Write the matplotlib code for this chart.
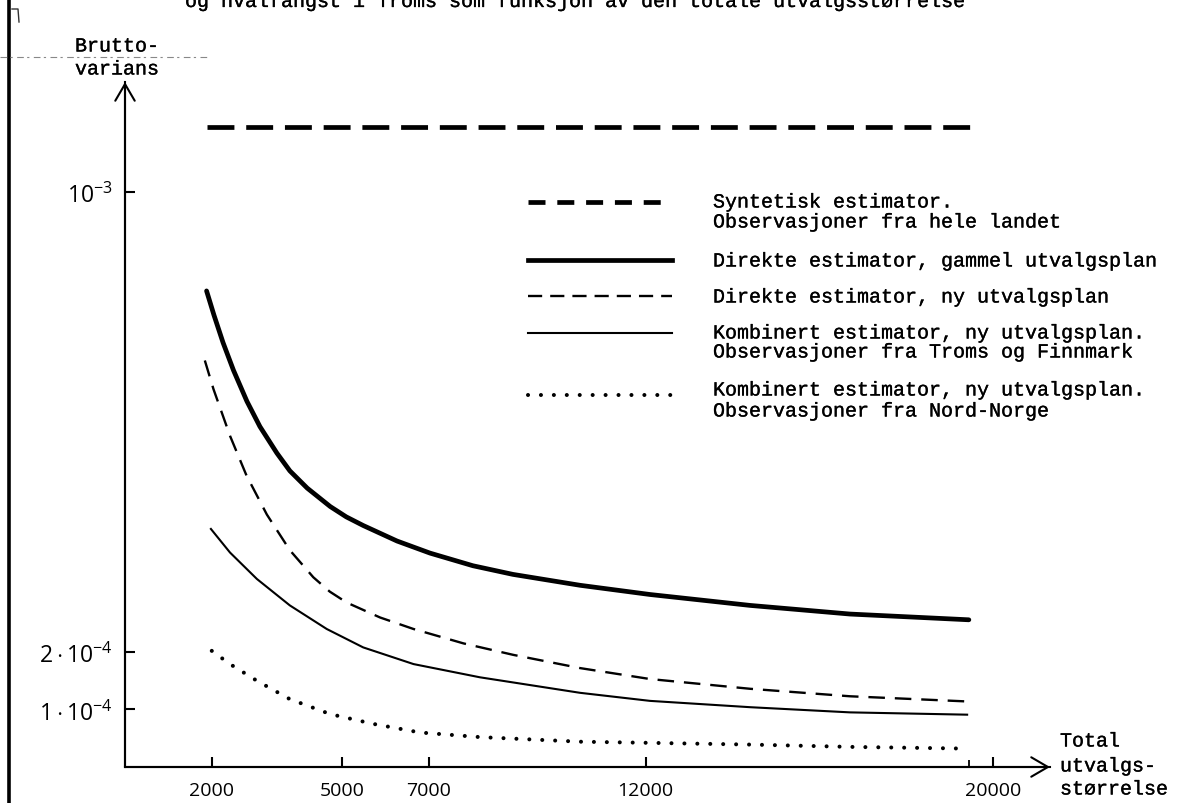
import matplotlib.pyplot as plt
import matplotlib.patheffects as pe
from matplotlib.lines import Line2D

# --- data (variance values, x = total sample size) ---
x_synt = [1900, 19480]
var_synt = [11.13e-4, 11.13e-4]

x_gammel = [1880, 2050, 2260, 2500, 2810, 3110, 3500, 3800, 4200, 4730, 5100,
            5490, 6270, 7030, 8020, 8940, 10490, 12100, 14410, 16710, 19450]
var_gammel = [8.28e-4, 7.86e-4, 7.38e-4, 6.90e-4, 6.36e-4, 5.92e-4, 5.46e-4,
              5.15e-4, 4.85e-4, 4.53e-4, 4.35e-4, 4.20e-4, 3.93e-4, 3.72e-4,
              3.50e-4, 3.35e-4, 3.16e-4, 3.00e-4, 2.81e-4, 2.66e-4, 2.56e-4]

x_ny = [1840, 2040, 2420, 2800, 3270, 3800, 4340, 4720, 5110, 5880, 6650, 7800,
        8950, 10490, 12100, 14410, 16710, 19410]
var_ny = [7.07e-4, 6.57e-4, 5.76e-4, 5.07e-4, 4.39e-4, 3.77e-4, 3.30e-4,
          3.05e-4, 2.86e-4, 2.60e-4, 2.40e-4, 2.15e-4, 1.95e-4, 1.72e-4,
          1.53e-4, 1.36e-4, 1.23e-4, 1.14e-4]

x_troms = [1980, 2420, 3040, 3800, 4650, 5490, 6650, 8180, 10490, 12100, 14410,
           16710, 19410]
var_troms = [4.14e-4, 3.73e-4, 3.27e-4, 2.81e-4, 2.40e-4, 2.08e-4, 1.79e-4,
             1.56e-4, 1.29e-4, 1.15e-4, 1.04e-4, 0.95e-4, 0.91e-4]

x_nord = [2000, 2420, 3040, 3800, 4730, 5720, 6800, 8180, 10490, 12100, 14410,
          16710, 19400]
var_nord = [2.02e-4, 1.79e-4, 1.50e-4, 1.18e-4, 0.92e-4, 0.75e-4, 0.60e-4,
            0.52e-4, 0.44e-4, 0.42e-4, 0.39e-4, 0.35e-4, 0.32e-4]

x_ticks = [2000, 5000, 7000, 12000, 20000]
x_ticklabels = ['2000', '5000', '7000', '12000', '20000']
y_ticks = [1e-4, 2e-4, 1e-3]
y_ticklabels = [r'$1\cdot10^{-4}$', r'$2\cdot10^{-4}$', r'$10^{-3}$']

legend_labels = [
    ['Syntetisk estimator.', 'Observasjoner fra hele landet'],
    ['Direkte estimator, gammel utvalgsplan'],
    ['Direkte estimator, ny utvalgsplan'],
    ['Kombinert estimator, ny utvalgsplan.', 'Observasjoner fra Troms og Finnmark'],
    ['Kombinert estimator, ny utvalgsplan.', 'Observasjoner fra Nord-Norge'],
]

title = 'og hvalfangst i Troms som funksjon av den totale utvalgsstørrelse'

MONO = 'Liberation Mono'
plt.rcParams['mathtext.fontset'] = 'custom'
plt.rcParams['mathtext.rm'] = 'Open Sans'
plt.rcParams['mathtext.it'] = 'Open Sans:italic'
plt.rcParams['mathtext.bf'] = 'Open Sans:bold'

# typewriter text is a little heavier than Liberation Mono
typed = dict(family=MONO, fontsize=14.4,
             path_effects=[pe.withStroke(linewidth=0.2, foreground='black')])

W, H = 1187, 804


def fx(px):
    return px / W


def fy(py):
    return 1 - py / H


fig = plt.figure(figsize=(W / 100, H / 100), dpi=100)
ax = fig.add_axes([fx(125), 36 / H, 925 / W, 685 / H])

# curves
ax.plot(x_synt, var_synt, color='black', lw=3.4, dashes=(5.7, 2.5))
ax.plot(x_gammel, var_gammel, color='black', lw=3.4, solid_capstyle='round',
        solid_joinstyle='round')
ax.plot(x_ny, var_ny, color='black', lw=1.7, dashes=(7.0, 4.2))
ax.plot(x_troms, var_troms, color='black', lw=1.5, solid_joinstyle='round')
ax.plot(x_nord, var_nord, color='black', lw=2.9, dashes=(0.01, 3.2),
        dash_capstyle='round')

ax.set_xlim(0, 21320)
ax.set_ylim(0, 11.913e-4)

for side in ['top', 'right']:
    ax.spines[side].set_visible(False)
for side in ['left', 'bottom']:
    ax.spines[side].set_linewidth(1.5)

ax.set_xticks(x_ticks)
ax.set_xticklabels(x_ticklabels, family='Open Sans', fontsize=14)
ax.set_xticks([19450], minor=True)
ax.set_yticks(y_ticks)
ax.set_yticklabels(y_ticklabels, fontsize=16.5)
ax.tick_params(axis='both', which='major', direction='in', length=7.5, width=1.5)
ax.tick_params(axis='x', which='minor', direction='in', length=5, width=1.3)
ax.tick_params(axis='x', which='major', pad=10)
ax.tick_params(axis='y', which='major', pad=9)

# arrow heads on the axes
arrow = dict(arrowstyle='->,head_length=0.6,head_width=0.35', lw=1.5,
             color='black', mutation_scale=20, shrinkA=0, shrinkB=0)
ax.annotate('', xy=(1, 0), xytext=(0, 0), xycoords='axes fraction', arrowprops=arrow)
ax.annotate('', xy=(0, 1), xytext=(0, 0), xycoords='axes fraction', arrowprops=arrow)

# axis captions
fig.text(fx(117), fy(47), 'Brutto-', ha='center', va='center', **typed)
fig.text(fx(117), fy(70), 'varians', ha='center', va='center', **typed)
fig.text(fx(1060), fy(742), 'Total', va='center', **typed)
fig.text(fx(1060), fy(767), 'utvalgs-', va='center', **typed)
fig.text(fx(1060), fy(790), 'størrelse', va='center', **typed)

# title, cut off by the top of the scan
fig.text(fx(575), fy(8), title, ha='center', va='baseline', **typed)

# legend, drawn by hand (sample line sits on the first text row)
legend_styles = [
    dict(lw=3.4, dashes=(3.6, 2.5)),
    dict(lw=3.4),
    dict(lw=1.7, dashes=(6.0, 3.4)),
    dict(lw=1.5),
    dict(lw=2.9, dashes=(0.01, 3.2), dash_capstyle='round'),
]
legend_line_y = [203, 261, 297, 334, 396]
legend_text_y = [[203, 223], [262], [298], [334, 353], [391, 412]]
for style, ly, labels, ty in zip(legend_styles, legend_line_y, legend_labels, legend_text_y):
    fig.add_artist(Line2D([fx(528), fx(672)], [fy(ly), fy(ly)], color='black', **style))
    for label, y in zip(labels, ty):
        fig.text(fx(713), fy(y), label, va='center', **typed)

# page edge and scan marks
fig.add_artist(Line2D([fx(9), fx(9)], [0, 1], color='black', lw=2.6))
fig.add_artist(Line2D([0, fx(208)], [fy(57.5), fy(57.5)], color='#888888', lw=0.8,
                      dashes=(6, 3, 2, 4)))
fig.add_artist(Line2D([fx(12), fx(18), fx(19)], [fy(10), fy(10), fy(23)],
                      color='#333333', lw=1.0))

plt.savefig('out.png', dpi=100)
